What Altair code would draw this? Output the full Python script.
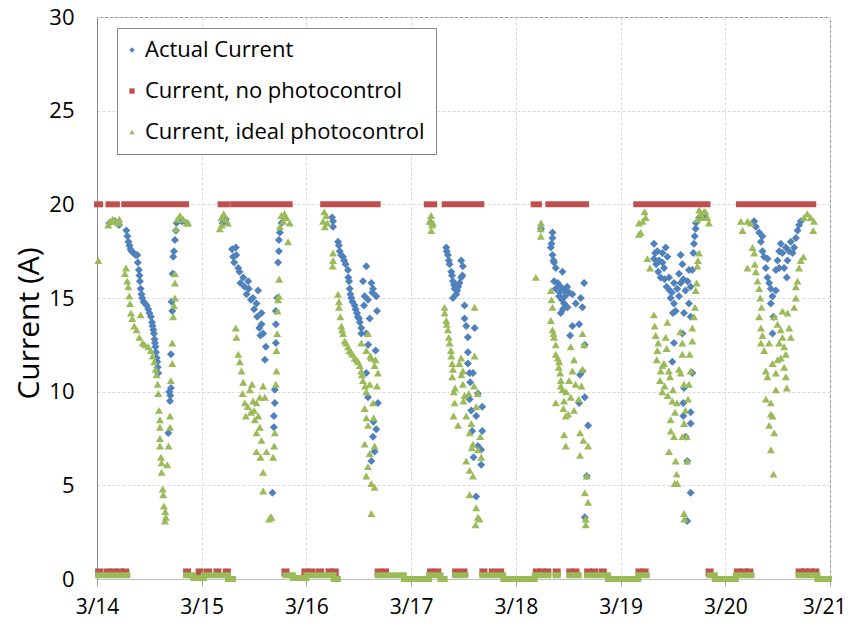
import json
import altair as alt
import pandas as pd

# ---------------- series / axes ----------------
SERIES = ["Actual Current", "Current, no photocontrol", "Current, ideal photocontrol"]
COLORS = ["#4F81BD", "#C0504D", "#9BBB59"]
SHAPES = ["diamond", "square", "triangle-up"]
DAY_LABELS = ["3/14", "3/15", "3/16", "3/17", "3/18", "3/19", "3/20", "3/21"]
Y_TICKS = [0, 5, 10, 15, 20, 25, 30]

# time in days after 3/14 00:00, current in A
actual_n1 = [(0.12, 19.0), (0.17, 19.1), (0.21, 18.9), (0.28, 18.6), (0.29, 18.3), (0.30, 18.0), (0.31, 17.8),
             (0.32, 17.6), (0.33, 17.5), (0.35, 17.4), (0.37, 17.3), (0.385, 17.3), (0.39, 16.9), (0.40, 16.5),
             (0.405, 16.2), (0.41, 15.9), (0.417, 15.5), (0.425, 15.2), (0.432, 15.0), (0.445, 14.8), (0.458, 14.7),
             (0.475, 14.6), (0.49, 14.4), (0.50, 14.2), (0.515, 14.0), (0.525, 13.7), (0.531, 13.5), (0.538, 13.3),
             (0.544, 13.1), (0.55, 12.8), (0.553, 12.6), (0.558, 12.4), (0.563, 12.1), (0.57, 11.8), (0.576, 11.6),
             (0.58, 11.3), (0.585, 11.0), (0.681, 7.8), (0.69, 10.0), (0.697, 9.5), (0.70, 9.8), (0.706, 10.2),
             (0.706, 12.0), (0.712, 14.8), (0.719, 14.3), (0.722, 16.3), (0.728, 17.2), (0.735, 17.5), (0.744, 18.1),
             (0.754, 18.6), (0.76, 19.0), (0.81, 19.1), (0.855, 19.0)]
actual_n2 = [(1.20, 19.0), (1.23, 19.2), (1.29, 17.6), (1.30, 17.2), (1.31, 16.9), (1.326, 17.7), (1.33, 17.3),
             (1.349, 16.6), (1.36, 16.4), (1.37, 15.8), (1.396, 16.1), (1.41, 15.6), (1.428, 15.2), (1.444, 15.9),
             (1.45, 15.5), (1.47, 14.9), (1.49, 15.0), (1.50, 14.4), (1.523, 14.7), (1.53, 14.0), (1.539, 15.4),
             (1.55, 13.4), (1.56, 13.0), (1.571, 14.2), (1.571, 13.6), (1.587, 13.1), (1.603, 11.7), (1.612, 12.4),
             (1.676, 4.6), (1.689, 8.1), (1.689, 8.7), (1.698, 9.4), (1.698, 10.1), (1.708, 12.6), (1.708, 13.6),
             (1.708, 14.3), (1.721, 15.0), (1.73, 16.9), (1.737, 17.5), (1.737, 18.1), (1.746, 18.5), (1.762, 19.0)]
actual_n3 = [(2.245, 19.3), (2.254, 19.1), (2.254, 18.8), (2.302, 18.0), (2.31, 17.8), (2.318, 17.5), (2.33, 17.3),
             (2.349, 17.2), (2.36, 17.0), (2.375, 16.8), (2.397, 16.5), (2.40, 16.1), (2.407, 15.9), (2.413, 15.5),
             (2.42, 15.2), (2.429, 15.0), (2.44, 14.8), (2.461, 14.6), (2.47, 14.4), (2.483, 14.2), (2.49, 14.0),
             (2.502, 13.9), (2.51, 13.7), (2.524, 13.4), (2.524, 13.1), (2.572, 16.7), (2.54, 15.9), (2.62, 15.8),
             (2.636, 15.5), (2.63, 15.3), (2.667, 15.1), (2.556, 15.1), (2.588, 14.9), (2.55, 14.6), (2.674, 14.3),
             (2.604, 13.9), (2.572, 13.1), (2.59, 12.5), (2.661, 12.2), (2.572, 11.0), (2.683, 9.4), (2.588, 9.7),
             (2.667, 8.0), (2.64, 8.4), (2.636, 7.6), (2.651, 6.8), (2.62, 6.3)]
actual_n4 = [(3.19, 19.0), (3.335, 17.7), (3.34, 17.5), (3.351, 17.3), (3.36, 17.0), (3.367, 16.8), (3.383, 16.4),
             (3.39, 16.2), (3.399, 15.9), (3.41, 15.7), (3.415, 15.5), (3.431, 15.2), (3.399, 15.0), (3.44, 15.4),
             (3.45, 15.6), (3.462, 15.8), (3.478, 17.0), (3.494, 16.7), (3.478, 16.1), (3.49, 16.2), (3.51, 14.6),
             (3.51, 13.9), (3.526, 13.5), (3.606, 13.4), (3.542, 12.9), (3.542, 12.1), (3.542, 11.5), (3.558, 11.0),
             (3.59, 11.0), (3.564, 10.5), (3.558, 9.6), (3.574, 9.0), (3.637, 9.9), (3.679, 9.2), (3.621, 8.7),
             (3.583, 7.9), (3.679, 7.9), (3.637, 7.1), (3.669, 6.9), (3.596, 6.5), (3.669, 6.1), (3.621, 4.4)]
actual_n5 = [(4.24, 18.7), (4.35, 18.5), (4.35, 18.2), (4.34, 17.9), (4.334, 17.7), (4.35, 17.3), (4.36, 17.0),
             (4.365, 16.9), (4.381, 16.6), (4.445, 16.4), (4.365, 15.9), (4.40, 15.8), (4.429, 15.6), (4.38, 15.5),
             (4.461, 15.4), (4.42, 15.3), (4.413, 15.1), (4.47, 15.1), (4.49, 15.6), (4.508, 15.3), (4.54, 15.2),
             (4.44, 14.9), (4.461, 14.7), (4.45, 14.4), (4.429, 14.2), (4.493, 14.5), (4.572, 14.7), (4.62, 15.0),
             (4.652, 15.8), (4.636, 14.5), (4.54, 13.5), (4.604, 13.6), (4.518, 13.0), (4.658, 12.5), (4.636, 11.1),
             (4.613, 10.9), (4.658, 9.7), (4.604, 9.4), (4.69, 8.2), (4.677, 5.5), (4.658, 3.3)]
actual_n6 = [(5.319, 17.9), (5.33, 17.4), (5.351, 17.5), (5.319, 17.1), (5.34, 16.8), (5.367, 17.0), (5.36, 16.4),
             (5.399, 17.4), (5.40, 16.9), (5.431, 17.7), (5.447, 17.2), (5.415, 16.6), (5.383, 16.1), (5.42, 16.0),
             (5.463, 16.1), (5.44, 15.6), (5.47, 15.4), (5.49, 15.3), (5.51, 15.8), (5.574, 17.3), (5.59, 16.8),
             (5.558, 16.3), (5.60, 16.0), (5.478, 15.0), (5.51, 14.7), (5.526, 14.3), (5.50, 14.2), (5.54, 15.5),
             (5.558, 15.1), (5.574, 15.8), (5.62, 15.4), (5.64, 15.9), (5.606, 14.2), (5.669, 15.6), (5.685, 16.5),
             (5.653, 16.5), (5.695, 17.4), (5.701, 17.9), (5.708, 18.3), (5.717, 18.7), (5.72, 19.0), (5.75, 19.3),
             (5.80, 19.4), (5.669, 14.0), (5.653, 14.7), (5.51, 12.6), (5.59, 13.1), (5.494, 11.6), (5.685, 11.0),
             (5.606, 10.2), (5.599, 9.4), (5.599, 8.7), (5.669, 8.9), (5.669, 8.3), (5.622, 7.6), (5.637, 6.3),
             (5.669, 4.6), (5.637, 3.1)]
actual_n7 = [(6.276, 19.1), (6.292, 18.8), (6.324, 18.5), (6.355, 18.3), (6.34, 18.0), (6.355, 17.5), (6.371, 17.2),
             (6.403, 17.1), (6.387, 16.6), (6.403, 16.1), (6.419, 15.8), (6.435, 15.5), (6.451, 15.1), (6.435, 14.7),
             (6.46, 14.0), (6.451, 13.1), (6.483, 15.4), (6.483, 16.5), (6.499, 17.0), (6.515, 17.5), (6.515, 16.6),
             (6.53, 17.9), (6.546, 17.4), (6.562, 16.6), (6.578, 17.7), (6.587, 16.1), (6.594, 17.0), (6.61, 17.5),
             (6.626, 18.0), (6.642, 17.4), (6.658, 17.7), (6.674, 18.2), (6.69, 18.6), (6.705, 18.9), (6.721, 19.1)]

ideal_n1 = [(0.013, 17.0), (0.108, 18.9), (0.124, 19.1), (0.149, 19.2), (0.181, 19.1), (0.204, 19.0), (0.213, 19.2),
            (0.267, 16.3), (0.277, 16.6), (0.289, 15.9), (0.299, 15.6), (0.309, 15.1), (0.315, 14.7), (0.324, 14.2),
            (0.337, 13.9), (0.356, 13.5), (0.378, 13.3), (0.404, 12.9), (0.417, 14.1), (0.436, 12.6), (0.458, 12.5),
            (0.49, 12.4), (0.515, 12.2), (0.531, 11.9), (0.547, 11.6), (0.56, 11.2), (0.569, 10.9), (0.579, 10.4),
            (0.585, 9.9), (0.592, 9.0), (0.601, 8.5), (0.601, 8.1), (0.601, 7.5), (0.601, 7.1), (0.611, 6.5),
            (0.617, 6.2), (0.617, 5.7), (0.627, 4.8), (0.633, 4.5), (0.639, 3.9), (0.652, 3.6), (0.658, 3.3),
            (0.649, 3.1), (0.671, 6.1), (0.684, 7.1), (0.697, 8.1), (0.697, 8.7), (0.706, 10.6), (0.719, 11.5),
            (0.719, 12.6), (0.728, 14.0), (0.735, 14.6), (0.744, 15.0), (0.744, 15.8), (0.744, 16.3), (0.754, 18.7),
            (0.766, 19.2), (0.792, 19.4), (0.824, 19.2), (0.855, 19.0), (0.871, 19.0)]
ideal_n2 = [(1.173, 18.7), (1.19, 19.3), (1.19, 18.9), (1.21, 19.5), (1.23, 19.2), (1.25, 19.0), (1.326, 13.4),
            (1.332, 12.9), (1.349, 12.0), (1.364, 11.6), (1.38, 11.1), (1.396, 10.5), (1.39, 9.9), (1.412, 9.4),
            (1.421, 8.7), (1.44, 9.2), (1.46, 10.1), (1.47, 8.9), (1.48, 10.4), (1.491, 9.5), (1.50, 9.0),
            (1.523, 9.4), (1.54, 8.7), (1.555, 9.7), (1.587, 10.3), (1.603, 9.7), (1.507, 8.5), (1.523, 7.8),
            (1.555, 8.1), (1.571, 7.4), (1.561, 6.5), (1.523, 6.8), (1.619, 6.8), (1.587, 4.7), (1.587, 5.7),
            (1.644, 3.2), (1.655, 3.3), (1.666, 3.3), (1.682, 6.5), (1.692, 7.1), (1.698, 7.8), (1.708, 10.4),
            (1.714, 11.1), (1.714, 12.2), (1.721, 13.1), (1.724, 14.3), (1.73, 14.9), (1.737, 15.1), (1.74, 16.0),
            (1.746, 18.8), (1.76, 19.4), (1.778, 19.1), (1.79, 19.5), (1.809, 19.3), (1.825, 18.0), (1.841, 19.0)]
ideal_n3 = [(2.159, 19.1), (2.17, 19.6), (2.175, 18.8), (2.19, 19.4), (2.20, 19.0), (2.25, 16.7), (2.254, 17.4),
            (2.254, 17.0), (2.302, 15.2), (2.31, 14.8), (2.311, 14.5), (2.324, 14.0), (2.334, 13.5), (2.34, 13.3),
            (2.349, 13.1), (2.365, 12.7), (2.38, 12.6), (2.397, 12.4), (2.41, 12.2), (2.429, 12.1), (2.44, 12.0),
            (2.461, 11.8), (2.48, 11.7), (2.493, 11.6), (2.51, 11.4), (2.524, 11.1), (2.53, 10.9), (2.54, 10.6),
            (2.56, 10.3), (2.572, 10.0), (2.556, 9.1), (2.572, 8.6), (2.588, 8.2), (2.556, 7.2), (2.604, 6.7),
            (2.588, 6.0), (2.572, 5.5), (2.62, 5.1), (2.651, 4.9), (2.62, 3.5), (2.588, 13.1), (2.524, 12.6),
            (2.572, 12.2), (2.61, 11.9), (2.62, 11.8), (2.66, 11.7), (2.651, 11.4), (2.683, 11.0), (2.604, 10.4),
            (2.674, 10.3), (2.636, 9.4), (2.642, 8.6), (2.651, 7.1)]
ideal_n4 = [(3.176, 19.1), (3.19, 19.4), (3.192, 18.6), (3.20, 18.9), (3.208, 19.0), (3.319, 14.5), (3.32, 14.2),
            (3.335, 13.8), (3.34, 13.6), (3.351, 13.3), (3.36, 12.9), (3.367, 12.6), (3.38, 12.2), (3.383, 11.9),
            (3.392, 11.5), (3.40, 11.2), (3.392, 10.8), (3.42, 10.2), (3.408, 10.0), (3.415, 9.4), (3.405, 8.7),
            (3.447, 8.2), (3.46, 11.5), (3.478, 11.8), (3.48, 10.9), (3.494, 11.1), (3.494, 10.4), (3.51, 9.8),
            (3.50, 9.5), (3.526, 8.7), (3.55, 9.9), (3.60, 10.3), (3.606, 14.5), (3.606, 11.9), (3.637, 9.9),
            (3.621, 9.2), (3.574, 8.3), (3.558, 7.8), (3.59, 7.2), (3.58, 7.0), (3.64, 6.9), (3.66, 7.6),
            (3.526, 6.3), (3.558, 5.8), (3.669, 6.5), (3.59, 5.5), (3.558, 4.5), (3.621, 3.8), (3.637, 3.3),
            (3.615, 2.9), (3.653, 3.2)]
ideal_n5 = [(4.191, 16.1), (4.238, 18.7), (4.238, 18.3), (4.24, 19.0), (4.334, 15.4), (4.34, 14.9), (4.35, 14.5),
            (4.334, 13.8), (4.35, 13.3), (4.36, 13.1), (4.365, 12.9), (4.381, 12.5), (4.381, 12.0), (4.40, 11.8),
            (4.413, 11.6), (4.41, 11.3), (4.423, 11.0), (4.429, 10.6), (4.43, 10.3), (4.445, 10.1), (4.46, 9.5),
            (4.381, 9.4), (4.454, 9.1), (4.477, 8.7), (4.50, 8.8), (4.461, 7.7), (4.477, 7.1), (4.556, 9.0),
            (4.524, 9.7), (4.48, 10.0), (4.508, 10.6), (4.57, 10.4), (4.60, 9.6), (4.556, 11.7), (4.54, 11.1),
            (4.636, 13.1), (4.652, 12.5), (4.524, 12.4), (4.636, 11.2), (4.626, 10.3), (4.613, 7.8), (4.645, 7.4),
            (4.69, 7.1), (4.613, 6.6), (4.677, 5.5), (4.658, 4.6), (4.69, 4.1), (4.667, 3.2), (4.667, 2.9)]
ideal_n6 = [(5.176, 19.0), (5.176, 18.4), (5.192, 18.5), (5.21, 19.1), (5.23, 19.6), (5.24, 19.3), (5.256, 17.1),
            (5.281, 16.6), (5.319, 14.1), (5.326, 13.5), (5.335, 13.0), (5.351, 12.2), (5.36, 12.6), (5.345, 11.7),
            (5.383, 11.1), (5.40, 11.4), (5.377, 10.6), (5.399, 10.0), (5.42, 10.3), (5.431, 12.9), (5.447, 13.7),
            (5.44, 12.3), (5.415, 11.5), (5.46, 11.1), (5.45, 9.8), (5.472, 10.8), (5.494, 9.5), (5.50, 10.1),
            (5.478, 8.5), (5.48, 7.9), (5.52, 8.9), (5.54, 9.4), (5.51, 7.6), (5.463, 6.8), (5.526, 6.3),
            (5.536, 5.6), (5.516, 5.1), (5.542, 5.1), (5.558, 11.2), (5.57, 13.2), (5.59, 12.6), (5.59, 12.0),
            (5.574, 11.0), (5.606, 10.4), (5.644, 9.6), (5.653, 10.4), (5.669, 11.1), (5.66, 12.0), (5.606, 8.3),
            (5.62, 9.0), (5.631, 7.6), (5.59, 7.6), (5.637, 6.3), (5.606, 3.5), (5.61, 3.2), (5.685, 12.7),
            (5.685, 13.4), (5.701, 14.0), (5.711, 14.5), (5.717, 15.4), (5.727, 15.8), (5.733, 16.7), (5.739, 17.0),
            (5.749, 17.4), (5.733, 19.2), (5.75, 19.7), (5.765, 19.5), (5.78, 19.3), (5.796, 19.6), (5.81, 19.6),
            (5.828, 19.3), (5.844, 19.0)]
ideal_n7 = [(6.149, 19.1), (6.165, 18.6), (6.212, 19.1), (6.244, 19.0), (6.212, 16.6), (6.26, 17.7), (6.276, 17.4),
            (6.282, 16.8), (6.292, 16.4), (6.308, 15.9), (6.324, 15.5), (6.333, 15.0), (6.346, 14.5), (6.324, 14.0),
            (6.34, 13.4), (6.355, 13.0), (6.34, 12.6), (6.371, 12.2), (6.387, 11.1), (6.403, 10.8), (6.387, 9.6),
            (6.435, 9.4), (6.435, 8.8), (6.419, 8.2), (6.467, 7.8), (6.435, 6.9), (6.46, 5.6), (6.419, 12.6),
            (6.467, 14.0), (6.499, 13.6), (6.53, 13.3), (6.515, 12.6), (6.546, 12.9), (6.562, 12.4), (6.53, 11.8),
            (6.578, 12.0), (6.562, 11.3), (6.578, 10.8), (6.587, 10.2), (6.483, 11.0), (6.499, 11.7), (6.451, 11.5),
            (6.483, 10.1), (6.451, 8.7), (6.546, 14.3), (6.594, 14.2), (6.61, 13.4), (6.626, 12.9), (6.658, 14.5),
            (6.674, 15.0), (6.674, 15.6), (6.69, 15.9), (6.705, 16.6), (6.721, 17.0), (6.746, 17.2), (6.751, 19.3),
            (6.783, 19.5), (6.815, 19.3), (6.847, 19.1), (6.84, 18.6)]

# "no photocontrol" current: spans (start, end) at 20 A, and small daytime readings
NO_PC_ON_LEVEL = 20.0
no_pc_on = [(0.0, 0.03), (0.11, 0.19), (0.26, 0.85), (1.18, 1.24), (1.30, 1.84), (2.16, 2.68), (3.15, 3.22),
            (3.32, 3.67), (4.17, 4.22), (4.31, 4.67), (5.15, 5.83), (6.13, 6.84)]
NO_PC_DAY_LEVEL = 0.35
no_pc_day = [0.02, 0.10, 0.16, 0.22, 0.27, 0.86, 0.98, 1.06, 1.15, 1.24, 1.80, 1.99, 2.05, 2.13, 2.22, 2.27,
             2.69, 2.75, 3.19, 3.25, 3.43, 3.50, 3.69, 3.78, 3.85, 4.20, 4.25, 4.30, 4.39, 4.52, 4.57, 4.69,
             4.75, 4.83, 5.18, 5.23, 5.85, 6.12, 6.18, 6.23, 6.71, 6.76, 6.81, 6.86]
# ideal photocontrol daytime readings: (start, end, current)
ideal_day = [(0.01, 0.29, 0.2), (0.85, 0.92, 0.2), (0.92, 1.02, 0.05), (1.02, 1.25, 0.2), (1.25, 1.30, 0.0),
             (1.80, 1.87, 0.2), (1.87, 2.00, 0.05), (2.00, 2.26, 0.2), (2.26, 2.30, 0.0), (2.68, 2.93, 0.2),
             (2.93, 3.17, 0.0), (3.17, 3.28, 0.2), (3.28, 3.32, 0.0), (3.42, 3.52, 0.2), (3.68, 3.88, 0.2),
             (3.88, 4.18, 0.0), (4.18, 4.31, 0.2), (4.38, 4.40, 0.2), (4.51, 4.60, 0.2), (4.68, 4.88, 0.2),
             (4.88, 5.17, 0.0), (5.17, 5.25, 0.2), (5.85, 5.90, 0.2), (5.90, 6.10, 0.0), (6.10, 6.25, 0.2),
             (6.70, 6.88, 0.2), (6.88, 6.99, 0.0)]

# ---------------- tables ----------------
rows = []
for night in [actual_n1, actual_n2, actual_n3, actual_n4, actual_n5, actual_n6, actual_n7]:
    rows += [{"t": t, "v": v, "s": SERIES[0]} for t, v in night]
rows += [{"t": t, "v": NO_PC_DAY_LEVEL, "s": SERIES[1]} for t in no_pc_day]
for night in [ideal_n1, ideal_n2, ideal_n3, ideal_n4, ideal_n5, ideal_n6, ideal_n7]:
    rows += [{"t": t, "v": v, "s": SERIES[2]} for t, v in night]
points = pd.DataFrame(rows)
points["o"] = range(len(points))

on_df = pd.DataFrame([{"t": a, "t2": b, "v": NO_PC_ON_LEVEL} for a, b in no_pc_on])
day_df = pd.DataFrame([{"t": a, "t2": b, "v": c} for a, b, c in ideal_day])

LAST = len(DAY_LABELS) - 1
FONT = "Open Sans"
x_scale = alt.Scale(domain=[0, LAST], nice=False, zero=False)
y_scale = alt.Scale(domain=[0, 30], nice=False)
x_axis = alt.Axis(values=list(range(len(DAY_LABELS))), labelExpr=json.dumps(DAY_LABELS) + "[datum.value]",
                  title=None, grid=True, gridColor="#D9D9D9", gridDash=[3, 2], domainColor="#BFBFBF",
                  tickColor="#A6A6A6", tickSize=7, labelPadding=10, labelFontSize=21, labelFont=FONT,
                  labelColor="black", labelFlush=False, labelOverlap=False,
                  labelAlign={"condition": {"test": f"datum.value == {LAST}", "value": "right"}, "value": "center"},
                  labelOffset={"condition": {"test": f"datum.value == {LAST}", "value": 16}, "value": 0})
y_axis = alt.Axis(values=Y_TICKS, title="Current (A)", grid=True, gridColor="#D9D9D9", gridDash=[3, 2],
                  domainColor="#868686", ticks=False, labelPadding=23, labelFontSize=22, labelFont=FONT,
                  labelColor="black", titleFontSize=30, titleFont=FONT, titleFontWeight="normal",
                  titleColor="black", titleAngle=270, titleBaseline="middle", titleX=-68, titleY=306)

on_layer = alt.Chart(on_df).mark_rule(color=COLORS[1], strokeWidth=6, strokeCap="square").encode(
    x=alt.X("t:Q", scale=x_scale, axis=x_axis),
    x2="t2:Q",
    y=alt.Y("v:Q", scale=y_scale, axis=y_axis),
)

pts_layer = alt.Chart(points).mark_point(filled=True, opacity=1, size=64).encode(
    x=alt.X("t:Q", scale=x_scale, axis=x_axis),
    y=alt.Y("v:Q", scale=y_scale, axis=y_axis),
    color=alt.Color("s:N", scale=alt.Scale(domain=SERIES, range=COLORS),
                    legend=alt.Legend(title=None, orient="none", legendX=20, legendY=11, fillColor="white",
                                      strokeColor="#868686", padding=11, symbolSize=28, labelFontSize=22,
                                      labelFont=FONT, labelColor="black", rowPadding=19, labelOffset=2,
                                      symbolOffset=-7, labelLimit=500, symbolStrokeWidth=0)),
    shape=alt.Shape("s:N", scale=alt.Scale(domain=SERIES, range=SHAPES)),
    order=alt.Order("o:Q"),
)

day_layer = alt.Chart(day_df).mark_rule(color=COLORS[2], strokeWidth=6, strokeCap="square").encode(
    x=alt.X("t:Q", scale=x_scale, axis=x_axis),
    x2="t2:Q",
    y=alt.Y("v:Q", scale=y_scale, axis=y_axis),
)

chart = alt.layer(on_layer, pts_layer, day_layer).properties(
    width=733, height=562,
    autosize=alt.AutoSizeParams(type="none"),
    padding={"left": 89, "top": 9, "right": 17, "bottom": 40},
).configure(font=FONT).configure_view(stroke="#868686", strokeWidth=1)

chart.save("out.html", embed_options={"renderer": "svg", "actions": False})
